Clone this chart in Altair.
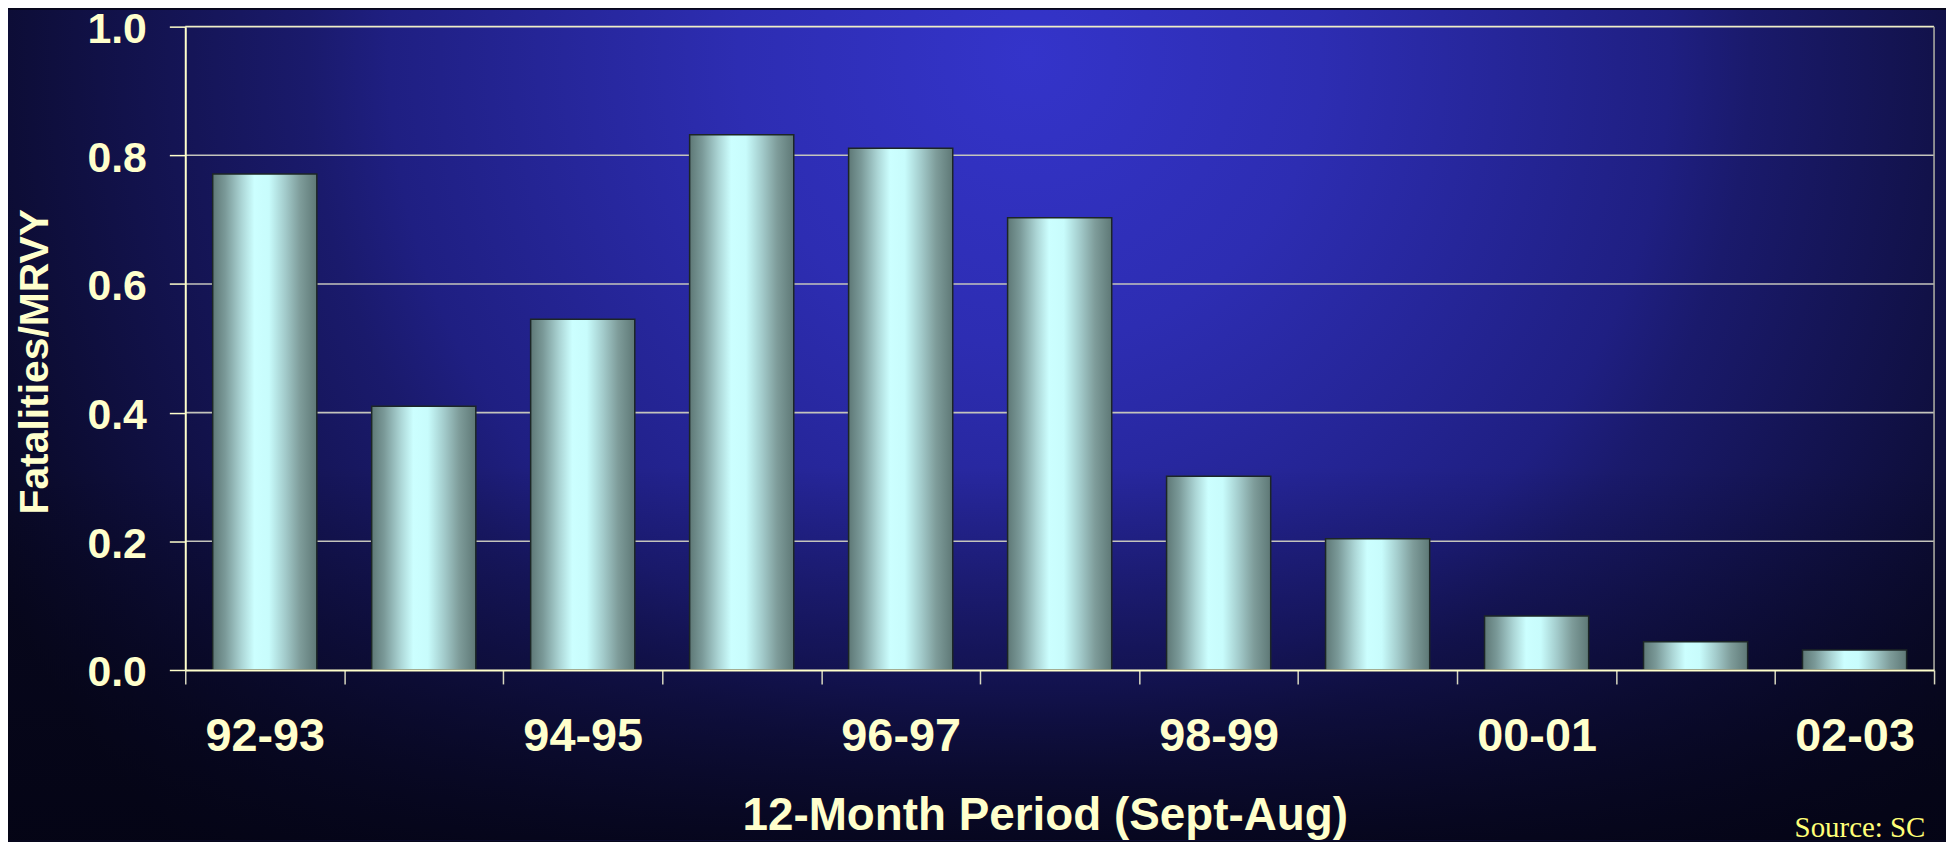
import json
import altair as alt
import pandas as pd

# ---- data ----
periods = ["92-93", "93-94", "94-95", "95-96", "96-97", "97-98",
           "98-99", "99-00", "00-01", "01-02", "02-03"]
rates = [0.771, 0.410, 0.545, 0.832, 0.811, 0.703, 0.301, 0.204, 0.084, 0.044, 0.031]
shown_labels = ["92-93", "94-95", "96-97", "98-99", "00-01", "02-03"]
y_ticks = [0.0, 0.2, 0.4, 0.6, 0.8, 1.0]
grid_values = [0.2, 0.4, 0.6, 0.8, 1.0]
x_title = "12-Month Period (Sept-Aug)"
y_title = "Fatalities/MRVY"
source_text = "Source:  SC"

# ---- layout / style ----
W, H = 1756, 646
PAD = {"left": 178, "top": 17, "right": 12, "bottom": 171}
TXT = "#ffffcc"
FONT = "Liberation Sans, Arial, sans-serif"

df = pd.DataFrame({"period": periods, "rate": rates})
grid_df = pd.DataFrame({"rate": grid_values})
one = pd.DataFrame({"k": [0]})

bg_left, bg_right = -PAD["left"], W + PAD["right"]
bg_top, bg_bottom = -PAD["top"], H + PAD["bottom"]

radial = alt.RadialGradient(
    gradient="radial",
    x1=0.527, y1=0.309, r1=0,
    x2=0.527, y2=0.309, r2=0.6,
    stops=[
        alt.GradientStop(offset=0.0, color="#3434ca"),
        alt.GradientStop(offset=0.25, color="#2d2db2"),
        alt.GradientStop(offset=0.55, color="#1f1f82"),
        alt.GradientStop(offset=0.62, color="#1a1a6c"),
        alt.GradientStop(offset=0.92, color="#0b0b2e"),
        alt.GradientStop(offset=1.0, color="#08081f"),
    ],
)
background = alt.Chart(one).mark_rect(fill=radial, strokeWidth=0).encode(
    x=alt.value(bg_left), x2=alt.value(bg_right),
    y=alt.value(bg_top), y2=alt.value(bg_bottom),
)

shade = alt.LinearGradient(
    gradient="linear", x1=0, x2=0, y1=0, y2=1,
    stops=[
        alt.GradientStop(offset=0.0, color="rgba(4,4,20,0)"),
        alt.GradientStop(offset=0.55, color="rgba(4,4,20,0)"),
        alt.GradientStop(offset=0.8, color="rgba(4,4,20,0.45)"),
        alt.GradientStop(offset=1.0, color="rgba(4,4,20,0.85)"),
    ],
)
overlay = alt.Chart(one).mark_rect(fill=shade, strokeWidth=0).encode(
    x=alt.value(bg_left), x2=alt.value(bg_right),
    y=alt.value(bg_top), y2=alt.value(bg_bottom),
)

yscale = alt.Scale(domain=[0, 1], nice=False)
yaxis = alt.Axis(
    title=y_title, titleFont=FONT, titleFontSize=41, titleFontWeight="bold",
    titleColor=TXT, titleX=-150, titleY=336, titleAngle=270,
    titleAlign="center", titleBaseline="middle",
    values=y_ticks, format=".1f", labelFont=FONT, labelFontSize=43,
    labelFontWeight="bold", labelColor=TXT, labelPadding=23,
    labelBaseline="middle", labelOffset=3,
    tickSize=16, tickColor=TXT, tickWidth=1.5,
    domainColor=TXT, domainWidth=2, grid=False, zindex=1,
)

grid = alt.Chart(grid_df).mark_rule(strokeWidth=1.6).encode(
    y=alt.Y("rate:Q", scale=yscale, axis=yaxis),
    x=alt.value(0), x2=alt.value(W),
    color=alt.condition("datum.rate >= 1", alt.value("#eeeec8"), alt.value("#c4c4bc")),
)

right_border = alt.Chart(one).mark_rule(color="#a8a8a0", strokeWidth=1.6).encode(
    x=alt.value(W), y=alt.value(0), y2=alt.value(H),
)

bar_fill = alt.LinearGradient(
    gradient="linear", x1=0, x2=1, y1=0, y2=0,
    stops=[
        alt.GradientStop(offset=0.0, color="#5e7876"),
        alt.GradientStop(offset=0.12, color="#7a9998"),
        alt.GradientStop(offset=0.28, color="#acd6d6"),
        alt.GradientStop(offset=0.40, color="#ccffff"),
        alt.GradientStop(offset=0.54, color="#c8fcfc"),
        alt.GradientStop(offset=0.70, color="#a2caca"),
        alt.GradientStop(offset=0.84, color="#7e9c9a"),
        alt.GradientStop(offset=1.0, color="#5e7876"),
    ],
)

label_expr = "indexof(" + json.dumps(shown_labels) + ", datum.value) >= 0 ? datum.label : ''"

bars = alt.Chart(df).mark_bar(
    fill=bar_fill, stroke="#1c2626", strokeWidth=1.5,
    width=alt.RelativeBandSize(0.655),
).encode(
    x=alt.X(
        "period:N", sort=periods,
        scale=alt.Scale(paddingInner=0, paddingOuter=0),
        axis=alt.Axis(
            title=x_title, titleFont=FONT, titleFontSize=46, titleFontWeight="bold",
            titleColor=TXT, titleX=863, titleY=160, titleAlign="center",
            titleBaseline="alphabetic", titleAngle=0,
            labelExpr=label_expr, labelAngle=0, labelFont=FONT, labelFontSize=47,
            labelFontWeight="bold", labelColor=TXT, labelBaseline="alphabetic",
            labelPadding=67, labelAlign="center",
            tickBand="extent", tickSize=14, tickColor="#d8d8c0", tickWidth=1.5,
            domainColor=TXT, domainWidth=2, grid=False, zindex=1,
        ),
    ),
    y=alt.Y("rate:Q", scale=yscale, axis=yaxis),
)

source = alt.Chart(one).mark_text(
    text=source_text, align="left", baseline="alphabetic",
    font="Liberation Serif, Times New Roman, serif", fontSize=29, color="#ffff77",
).encode(x=alt.value(1616), y=alt.value(814))

chart = alt.layer(background, overlay, grid, right_border, bars, source).properties(
    width=W, height=H, padding=PAD,
    autosize=alt.AutoSizeParams(type="none"),
).configure(background="#07071c").configure_view(strokeWidth=0)

chart.save("out.html", embed_options={"renderer": "svg", "actions": False})
